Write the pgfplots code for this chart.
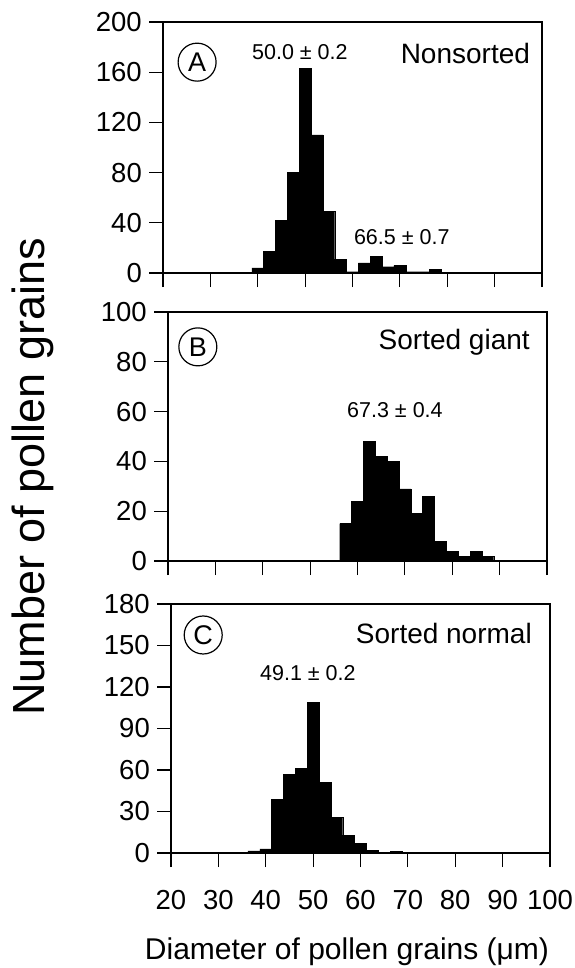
\documentclass[border=0pt]{standalone}
\usepackage{fontspec}
\setmainfont{Liberation Sans}
\usepackage{pgfplots}
\pgfplotsset{compat=1.18}

\pgfplotsset{
  panel/.style={
    scale only axis,
    width=379pt,
    xmin=20, xmax=100, ymin=0,
    xtick={20,30,...,100},
    xticklabels={},
    tick align=outside,
    xtick pos=bottom, ytick pos=left,
    major tick length=14pt,
    axis line style={line width=1.6pt},
    every tick/.style={black, line width=1.2pt},
    tick label style={font=\fontsize{27.5}{30}\selectfont, inner sep=2pt},
    yticklabel style={xshift=-5pt},
    xticklabel style={yshift=-21pt},
    /pgf/number format/assume math mode=true,
    anchor=north west,
    clip=false,
  },
  hist/.style={ybar interval, fill=black, draw=black, line width=0.4pt},
}
\tikzset{
  note/.style={font=\fontsize{21.5}{24}\selectfont},
  ptitle/.style={font=\fontsize{28}{30}\selectfont, anchor=east, inner sep=0pt},
  letter/.style={draw, circle, line width=1.2pt, minimum size=38pt, inner sep=0pt,
    font=\fontsize{27}{30}\selectfont},
}

\begin{document}
\begin{tikzpicture}
\useasboundingbox (0,0) rectangle (574pt,-968pt);

% A: nonsorted
\begin{axis}[panel, at={(163pt,-22pt)}, height=251pt,
    ymax=200, ytick={0,40,...,200}]
\addplot[hist] coordinates {
  (38.75,4) (41.25,17) (43.75,42) (46.25,80) (48.75,163) (51.25,110)
  (53.75,49) (56.25,11) (58.75,1) (61.25,8) (63.75,13) (66.25,5)
  (68.75,6) (71.25,1) (73.75,1) (76.25,3) (78.75,0)
};
\node[letter] at (axis cs:27.2,168) {A};
\node[note] at (axis cs:48.9,176) {50.0 ± 0.2};
\node[ptitle] at (axis cs:97.5,175) {Nonsorted};
\node[note] at (axis cs:70.4,28.7) {66.5 ± 0.7};
\end{axis}

% B: sorted giant
\begin{axis}[panel, at={(168pt,-312pt)}, height=249pt,
    ymax=100, ytick={0,20,...,100}]
\addplot[hist] coordinates {
  (56.25,15) (58.75,24) (61.25,48) (63.75,42) (66.25,40) (68.75,29)
  (71.25,19) (73.75,26) (76.25,8) (78.75,4) (81.25,2) (83.75,4)
  (86.25,2) (88.75,0)
};
\node[letter] at (axis cs:26.3,86) {B};
\node[ptitle] at (axis cs:96.4,88) {Sorted giant};
\node[note] at (axis cs:67.9,60.6) {67.3 ± 0.4};
\end{axis}

% C: sorted normal
\begin{axis}[panel, at={(171pt,-604pt)}, height=249pt,
    ymax=180, ytick={0,30,...,180},
    xticklabels={20,30,40,50,60,70,80,90,100}]
\addplot[hist] coordinates {
  (36.25,1.5) (38.75,3) (41.25,39) (43.75,57) (46.25,61) (48.75,109)
  (51.25,51) (53.75,26) (56.25,13) (58.75,7) (61.25,2) (63.75,0.5)
  (66.25,1) (68.75,0)
};
\node[letter] at (axis cs:26.8,157.6) {C};
\node[ptitle] at (axis cs:96.2,159) {Sorted normal};
\node[note] at (axis cs:48.9,130) {49.1 ± 0.2};
\end{axis}

\node[rotate=90, font=\fontsize{45}{48}\selectfont] at (33pt,-477pt) {Number of pollen grains};
\node[font=\fontsize{30}{33}\selectfont] at (347pt,-952pt) {Diameter of pollen grains (μm)};
\end{tikzpicture}
\end{document}
